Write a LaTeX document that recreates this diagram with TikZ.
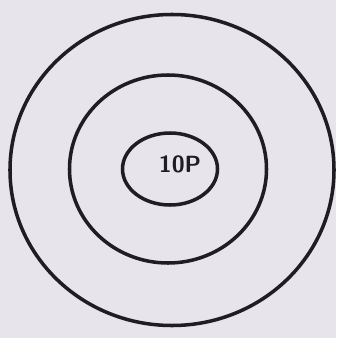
\documentclass[tikz,border=0pt]{standalone}
\usepackage{tikz}
\usetikzlibrary{shapes.geometric}
\definecolor{paper}{HTML}{E7E4EC}
\definecolor{ink}{HTML}{1E1E22}
\begin{document}
\begin{tikzpicture}[x=0.03cm, y=-0.03cm, every node/.style={ellipse, draw=ink, line width=3pt, inner sep=0pt}]

% Paper
\fill[paper] (0,0) rectangle (336,338);
\useasboundingbox (0,0) rectangle (336,338);

% Rings
\node[minimum width=9.72cm, minimum height=9.33cm] (outer) at (172,170) {};
\node[minimum width=5.91cm, minimum height=5.64cm] (middle) at (168,169) {};
\node[minimum width=2.85cm, minimum height=2.16cm] (inner) at (170,169) {};

% Labels
\node[draw=none, font=\sffamily\bfseries\fontsize{20}{20}\selectfont, text=ink] (core) at (180,164) {10P};

\end{tikzpicture}
\end{document}
